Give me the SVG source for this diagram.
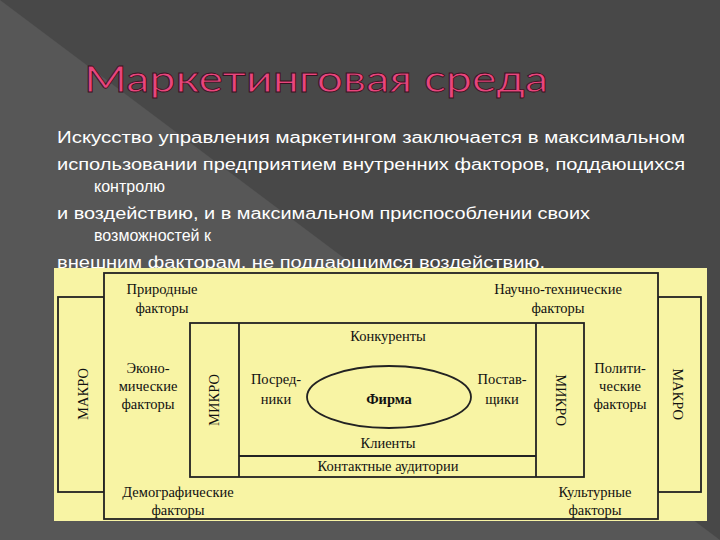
<svg xmlns="http://www.w3.org/2000/svg" width="720" height="540" viewBox="0 0 720 540">
<style>
.b{font-family:"Liberation Sans","DejaVu Sans",sans-serif;font-size:16px;fill:#fff}
.t{font-family:"Liberation Serif",serif;font-size:14.5px;fill:#111;text-anchor:middle}
.r{fill:#f8f4a4;stroke:#222;stroke-width:1.8}
</style>
<rect width="720" height="540" fill="#484848"/>
<polygon points="0,0 720,540 0,540" fill="#575757"/>
<text x="84" y="92" font-family="Lato,'DejaVu Sans',sans-serif" font-size="37" fill="#e8457c" stroke="#3a1020" stroke-width="0.8" textLength="464" lengthAdjust="spacingAndGlyphs">Маркетинговая среда</text>
<g class="b">
<text x="57" y="143" textLength="628" lengthAdjust="spacingAndGlyphs">Искусство управления маркетингом заключается в максимальном</text>
<text x="57" y="170" textLength="628" lengthAdjust="spacingAndGlyphs">использовании предприятием внутренних факторов, поддающихся</text>
<text x="94" y="192">контролю</text>
<text x="57" y="219" textLength="533" lengthAdjust="spacingAndGlyphs">и воздействию, и в максимальном приспособлении своих</text>
<text x="94" y="241">возможностей к</text>
<text x="57" y="268" textLength="488" lengthAdjust="spacingAndGlyphs">внешним факторам, не поддающимся воздействию.</text>
</g>
<rect x="54" y="268" width="653" height="253" fill="#f8f4a4"/>
<g id="macro-left"><rect class="r" x="58" y="297" width="46" height="195"/><text class="t" font-size="19" transform="translate(88,394) rotate(-90)">МАКРО</text></g>
<g id="macro-right"><rect class="r" x="658" y="297" width="43" height="195"/><text class="t" font-size="19" transform="translate(673,394) rotate(90)">МАКРО</text></g>
<g id="outer"><rect class="r" x="104" y="273" width="554" height="246"/>
<text class="t" x="162" y="294">Природные</text><text class="t" x="162" y="313">факторы</text>
<text class="t" x="558" y="294">Научно-технические</text><text class="t" x="558" y="313">факторы</text>
<text class="t" x="148" y="373">Эконо-</text><text class="t" x="148" y="391">мические</text><text class="t" x="148" y="409">факторы</text>
<text class="t" x="620" y="373">Полити-</text><text class="t" x="620" y="391">ческие</text><text class="t" x="620" y="409">факторы</text>
<text class="t" x="178" y="497">Демографические</text><text class="t" x="178" y="515">факторы</text>
<text class="t" x="595" y="497">Культурные</text><text class="t" x="595" y="515">факторы</text>
</g>
<g id="micro"><rect class="r" x="190" y="323" width="394" height="154"/>
<line x1="239" y1="323" x2="239" y2="477" stroke="#222" stroke-width="1.8"/>
<line x1="536" y1="323" x2="536" y2="477" stroke="#222" stroke-width="1.8"/>
<line x1="239" y1="456" x2="536" y2="456" stroke="#222" stroke-width="1.8"/>
<text class="t" transform="translate(219,400) rotate(-90)">МИКРО</text>
<text class="t" transform="translate(556,400) rotate(90)">МИКРО</text>
<text class="t" x="388" y="341">Конкуренты</text>
<text class="t" x="276" y="384">Посред-</text><text class="t" x="276" y="404">ники</text>
<text class="t" x="502" y="384">Постав-</text><text class="t" x="502" y="404">щики</text>
<text class="t" x="388" y="448">Клиенты</text>
<text class="t" x="388" y="471">Контактные аудитории</text>
</g>
<g id="firm"><ellipse cx="389" cy="397" rx="82" ry="31" fill="none" stroke="#222" stroke-width="1.8"/>
<text class="t" x="389" y="404" font-size="20" font-weight="bold">Фирма</text></g>
</svg>
